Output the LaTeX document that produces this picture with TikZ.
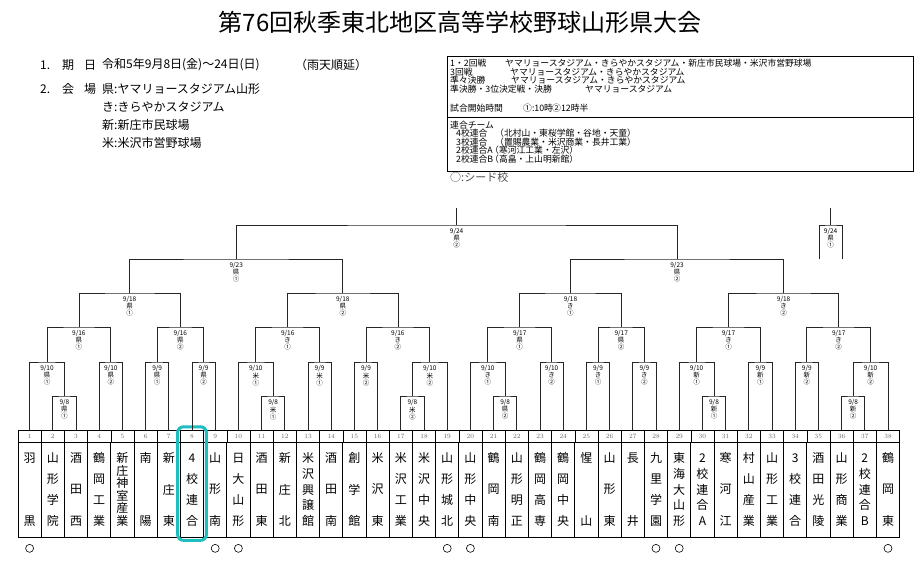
\documentclass[tikz,border=0pt]{standalone}
\usepackage{fontspec}
\newfontfamily\jp{Noto Sans CJK JP}
\usetikzlibrary{calc}
\usetikzlibrary{fit}
\definecolor{cyanhl}{RGB}{30,190,190}
\tikzset{bline/.style={draw, line width=0.8pt, black!85}}
\tikzset{mlabel/.style={anchor=north, inner sep=0pt, align=center, font=\jp\fontsize{6.5}{6.6}\selectfont}}
\tikzset{numcell/.style={rectangle, draw, line width=0.5pt, minimum width=23.2pt, minimum height=12pt, inner sep=0pt, font=\fontsize{6.5}{7}\selectfont, text=black!60}}
\tikzset{namecell/.style={rectangle, draw, line width=0.7pt, minimum width=23.2pt, minimum height=95pt, inner sep=0pt}}
\tikzset{tname/.style={inner sep=0pt, font=\jp\fontsize{12}{12}\selectfont}}
\tikzset{seed/.style={circle, draw, line width=0.6pt, minimum size=8pt, inner sep=0pt}}
\tikzset{hilite/.style={rectangle, rounded corners=6pt, draw=cyanhl, line width=3pt, inner xsep=2.5pt, inner ysep=3pt}}
\tikzset{info/.style={anchor=west, inner sep=0pt, font=\jp\fontsize{12}{12}\selectfont}}
\tikzset{boxtext/.style={anchor=west, inner sep=0pt, font=\jp\fontsize{8.8}{8.8}\selectfont}}

\begin{document}
\begin{tikzpicture}[x=1pt, y=-1pt]

    \useasboundingbox (0,0) rectangle (923,564);

    % heading and dates
    \node (title) at (460,22) {\jp\fontsize{24}{24}\selectfont 第76回秋季東北地区高等学校野球山形県大会};

    \node[info] (i1) at (40,65) {1.};
    \node[info] (i1a) at (62,65) {期};
    \node[info] (i1b) at (84,65) {日};
    \node[info] (i1c) at (102,65) {令和5年9月8日(金)～24日(日)};
    \node[info] (i1d) at (295,65) {（雨天順延）};
    \node[info] (i2) at (40,89) {2.};
    \node[info] (i2a) at (62,89) {会};
    \node[info] (i2b) at (84,89) {場};
    \node[info] (i2c) at (102,89) {県:ヤマリョースタジアム山形};
    \node[info] (i3) at (102,107) {き:きらやかスタジアム};
    \node[info] (i4) at (102,125) {新:新庄市民球場};
    \node[info] (i5) at (102,143) {米:米沢市営野球場};

    % venue box
    \draw[line width=0.8pt] (447,56) rectangle (913,171);
    \draw[line width=0.8pt] (447,117) -- (913,117);
    \node[boxtext] (v1) at (450,63.5) {1・2回戦};
    \node[boxtext] (v1a) at (505,63.5) {ヤマリョースタジアム・きらやかスタジアム・新庄市民球場・米沢市営野球場};
    \node[boxtext] (v2) at (450,72) {3回戦};
    \node[boxtext] (v2a) at (510,72) {ヤマリョースタジアム・きらやかスタジアム};
    \node[boxtext] (v3) at (450,80.5) {準々決勝};
    \node[boxtext] (v3a) at (511,80.5) {ヤマリョースタジアム・きらやかスタジアム};
    \node[boxtext] (v4) at (450,89) {準決勝・3位決定戦・決勝};
    \node[boxtext] (v4a) at (585,89) {ヤマリョースタジアム};
    \node[boxtext] (v5) at (450,108) {試合開始時間};
    \node[boxtext] (v5a) at (523,108) {①:10時};
    \node[boxtext] (v5b) at (552,108) {②12時半};
    \node[boxtext] (u0) at (450,125) {連合チーム};
    \node[boxtext] (u1) at (456,133.5) {4校連合};
    \node[boxtext] (u1a) at (495,133.5) {（北村山・東桜学館・谷地・天童）};
    \node[boxtext] (u2) at (456,142) {3校連合};
    \node[boxtext] (u2a) at (495,142) {（置賜農業・米沢商業・長井工業）};
    \node[boxtext] (u3) at (456,150.5) {2校連合A};
    \node[boxtext] (u3a) at (490,150.5) {（寒河江工業・左沢）};
    \node[boxtext] (u4) at (456,159) {2校連合B};
    \node[boxtext] (u4a) at (490,159) {（高畠・上山明新館）};
    \node[anchor=west, inner sep=0pt, text=black!70, font=\jp\fontsize{11}{11}\selectfont] (key) at (450,177) {○:シード校};

    % table of teams
    \foreach \i in {1,...,38} {
      \node[numcell] (no\i) at ({6.4+23.2*\i},436) {\i};
      \node[namecell] (nm\i) at ({6.4+23.2*\i},489.5) {};
      \coordinate (t\i) at (no\i.north);
    }

    \foreach \i/\cnt/\nam in {
      1/2/{羽,黒}, 2/4/{山,形,学,院}, 3/3/{酒,田,西}, 4/4/{鶴,岡,工,業},
      5/6/{新,庄,神,室,産,業}, 6/2/{南,陽}, 7/3/{新,庄,東}, 8/4/{4,校,連,合},
      9/3/{山,形,南}, 10/4/{日,大,山,形}, 11/3/{酒,田,東}, 12/3/{新,庄,北},
      13/5/{米,沢,興,譲,館}, 14/3/{酒,田,南}, 15/3/{創,学,館}, 16/3/{米,沢,東},
      17/4/{米,沢,工,業}, 18/4/{米,沢,中,央}, 19/4/{山,形,城,北}, 20/4/{山,形,中,央},
      21/3/{鶴,岡,南}, 22/4/{山,形,明,正}, 23/4/{鶴,岡,高,専}, 24/4/{鶴,岡,中,央},
      25/2/{惺,山}, 26/3/{山,形,東}, 27/2/{長,井}, 28/4/{九,里,学,園},
      29/5/{東,海,大,山,形}, 30/5/{2,校,連,合,A}, 31/3/{寒,河,江}, 32/4/{村,山,産,業},
      33/4/{山,形,工,業}, 34/4/{3,校,連,合}, 35/4/{酒,田,光,陵}, 36/4/{山,形,商,業},
      37/5/{2,校,連,合,B}, 38/3/{鶴,岡,東}} {
      \foreach \ch [count=\k] in \nam {
        \node[tname] (ch\i-\k) at ({6.4+23.2*\i},{458+(\k-1)*63/(\cnt-1)}) {\ch};
      }
    }

    % seeds
    \foreach \i in {1,9,10,19,20,28,29,38}
      \node[seed] (s\i) at ($(nm\i.south)+(0,11)$) {};

    \node[hilite, fit=(no8)(nm8)] (hl) {};

    % bracket
    \coordinate (pl) at (819,259);
    \coordinate (pr) at (842.3,259);

    \foreach \mt/\lf/\rt/\hy/\dd/\ven/\cn in {
      a1/t2/t3/396/8/県/①, a2/t11/t12/396/8/米/①, a3/t17/t18/396/8/米/②,
      a4/t21/t22/396/8/県/②, a5/t30/t31/396/8/新/①, a6/t36/t37/396/8/新/②,
      b1/t1/a1/362/10/県/①, b2/t4/t5/362/10/県/②, b3/t6/t7/362/9/県/①,
      b4/t8/t9/362/9/県/②, b5/t10/a2/362/10/米/①, b6/t13/t14/362/9/米/①,
      b7/t15/t16/362/9/米/②, b8/a3/t19/362/10/米/②, b9/t20/a4/362/10/き/①,
      b10/t23/t24/362/10/き/②, b11/t25/t26/362/9/き/①, b12/t27/t28/362/9/き/②,
      b13/t29/a5/362/10/新/①, b14/t32/t33/362/9/新/①, b15/t34/t35/362/9/新/②,
      b16/a6/t38/362/10/新/②,
      c1/b1/b2/327/16/県/①, c2/b3/b4/327/16/県/②, c3/b5/b6/327/16/き/①,
      c4/b7/b8/327/16/き/②, c5/b9/b10/327/17/県/①, c6/b11/b12/327/17/県/②,
      c7/b13/b14/327/17/き/①, c8/b15/b16/327/17/き/②,
      d1/c1/c2/293/18/県/①, d2/c3/c4/293/18/県/②, d3/c5/c6/293/18/き/①,
      d4/c7/c8/293/18/き/②,
      e1/d1/d2/259/23/県/①, e2/d3/d4/259/23/県/②,
      f1/e1/e2/225/24/県/②, p1/pl/pr/225/24/県/①} {
      \path let \p1=($(\lf)!.5!(\rt)$), \p2=(0,\hy) in coordinate (\mt) at (\x1,\y2);
      \draw[bline] (\lf) |- (\mt) -| (\rt);
      \node[mlabel] (\mt-lab) at ([yshift=-3.5pt]\mt) {9/\dd\\\ven\\\cn};
    }

    \coordinate (champ) at ([yshift=17pt]f1);
    \coordinate (third) at ([yshift=17pt]p1);
    \draw[bline] (f1) -- (champ);
    \draw[bline] (p1) -- (third);

\end{tikzpicture}
\end{document}
